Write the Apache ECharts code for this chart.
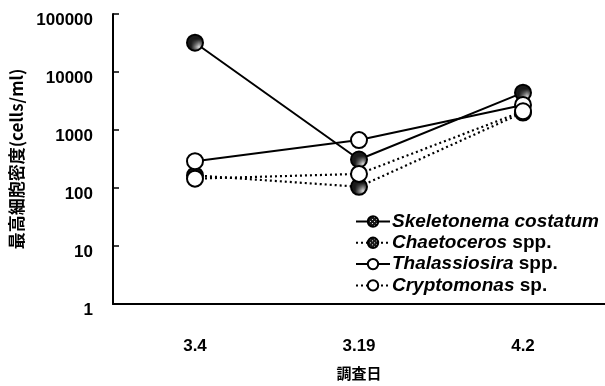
<!DOCTYPE html>
<html>
<head>
<meta charset="utf-8">
<script src="https://cdn.jsdelivr.net/npm/echarts@6/dist/echarts.min.js"></script>
<style>
  html, body { margin: 0; padding: 0; background: #fff; }
  #chart { width: 605px; height: 386px; }
</style>
</head>
<body>
<div id="chart"></div>
<script>
// Survey dates (category axis)
const surveyDates = ['3.4', '3.19', '4.2'];

// Maximum cell density (cells/ml) per taxon
const skeletonema   = [32000, 310, 4400];
const chaetoceros   = [165, 105, 2000];
const thalassiosira = [290, 670, 2700];
const cryptomonas   = [145, 175, 2100];

// Log-axis tick values
const yTicks = [1, 10, 100, 1000, 10000, 100000];

// Stippled fill for the diatom markers
function stipple() {
  const c = document.createElement('canvas');
  c.width = 4; c.height = 4;
  const g = c.getContext('2d');
  g.fillStyle = '#1a1a1a';
  g.fillRect(0, 0, 4, 4);
  g.fillStyle = '#e0e0e0';
  g.fillRect(0, 0, 1, 1);
  g.fillRect(2, 2, 1, 1);
  return { image: c, repeat: 'repeat' };
}
const dark = stipple();

const FONT = "'Liberation Sans Narrow', 'Liberation Sans', Arial, sans-serif";
const CJK = "'Noto Sans CJK JP', 'Noto Sans CJK SC', sans-serif";

function mkSeries(name, data, dotted, filled) {
  return {
    name: name,
    type: 'line',
    data: data,
    symbol: 'circle',
    symbolSize: 16,
    showSymbol: true,
    animation: false,
    lineStyle: { color: '#000', width: dotted ? 2.2 : 2, type: dotted ? [2, 3] : 'solid' },
    itemStyle: { color: filled ? dark : '#fff', borderColor: '#000', borderWidth: 2 },
    emphasis: { disabled: true }
  };
}

const legendNames = {
  'Skeletonema costatum': '{i|Skeletonema costatum}',
  'Chaetoceros spp.': '{i|Chaetoceros}{n| spp.}',
  'Thalassiosira spp.': '{i|Thalassiosira}{n| spp.}',
  'Cryptomonas sp.': '{i|Cryptomonas}{n| sp.}'
};

const chart = echarts.init(document.getElementById('chart'), null, { renderer: 'canvas' });
chart.setOption({
  animation: false,
  grid: { left: 113, top: 14, width: 492, height: 292 },
  legend: {
    orient: 'vertical',
    left: 350,
    top: 207,
    itemWidth: 34,
    itemHeight: 13,
    itemGap: 2.3,
    data: ['Skeletonema costatum', 'Chaetoceros spp.', 'Thalassiosira spp.', 'Cryptomonas sp.'],
    formatter: n => legendNames[n],
    textStyle: {
      color: '#000',
      padding: [0, 0, 0, -3],
      rich: {
        i: { fontFamily: FONT, fontSize: 19, lineHeight: 19, fontStyle: 'italic', fontWeight: 'bold', color: '#000' },
        n: { fontFamily: FONT, fontSize: 19, lineHeight: 19, fontWeight: 'bold', color: '#000' }
      }
    }
  },
  xAxis: {
    type: 'category',
    data: surveyDates,
    boundaryGap: true,
    name: '調査日',
    nameLocation: 'middle',
    nameGap: 62,
    nameTextStyle: { fontFamily: CJK, fontSize: 15, fontWeight: 'bold', color: '#000' },
    axisLine: { lineStyle: { color: '#000', width: 2 } },
    axisTick: { inside: true, length: 5, lineStyle: { color: '#000', width: 1.5 } },
    axisLabel: { margin: 34, fontFamily: FONT, fontSize: 17, fontWeight: 'bold', color: '#000' }
  },
  yAxis: {
    type: 'log',
    logBase: 10,
    min: yTicks[0],
    max: yTicks[yTicks.length - 1],
    name: '最高細胞密度(cells/ml)',
    nameLocation: 'middle',
    nameGap: 86,
    nameRotate: 90,
    nameTextStyle: { fontFamily: CJK, fontSize: 17, fontWeight: 'bold', color: '#000' },
    splitLine: { show: false },
    axisLine: { show: true, lineStyle: { color: '#000', width: 2 } },
    axisTick: { show: true, inside: true, length: 6, lineStyle: { color: '#000', width: 1.5 } },
    axisLabel: {
      margin: 20,
      fontFamily: FONT,
      fontSize: 17,
      fontWeight: 'bold',
      color: '#000',
      verticalAlign: 'top',
      lineHeight: 13,
      formatter: v => String(yTicks.find(t => Math.abs(t - v) < 1e-6 * t) ?? Math.round(v))
    }
  },
  series: [
    mkSeries('Skeletonema costatum', skeletonema, false, true),
    mkSeries('Chaetoceros spp.', chaetoceros, true, true),
    mkSeries('Thalassiosira spp.', thalassiosira, false, false),
    mkSeries('Cryptomonas sp.', cryptomonas, true, false)
  ]
});
</script>
</body>
</html>
